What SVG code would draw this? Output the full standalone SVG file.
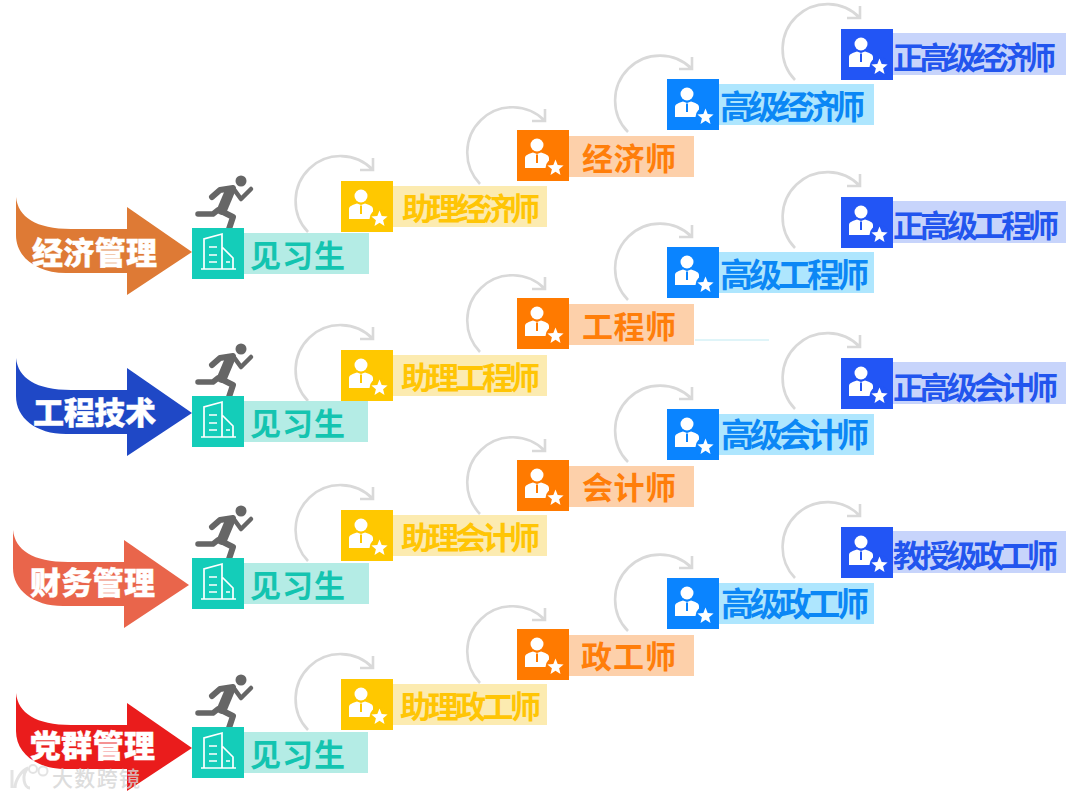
<svg xmlns="http://www.w3.org/2000/svg" width="1080" height="797" viewBox="0 0 1080 797">
<style>
text{font-family:"Noto Sans CJK SC","Noto Sans",sans-serif;font-weight:700}
.arc{fill:none;stroke:#d9d9d9;stroke-width:2.6}
.lab{fill:#fff;font-size:31px;font-weight:900;stroke:#fff;stroke-width:.4}
.g{color:#14cdb9}.g .b{fill:#b4ece5}.g text{fill:#14c4b0;font-size:31px}
.y{color:#ffc800}.y .b{fill:#fcebb0}.y text{fill:#ffc505;font-size:31px}
.o{color:#ff7a00}.o .b{fill:#fdd0aa}.o text{fill:#ff7e0a;font-size:31px}
.l{color:#0a84ff}.l .b{fill:#aee6fe}.l text{fill:#0b87f5;font-size:33px}
.d{color:#2255f5}.d .b{fill:#c7d4fb}.d text{fill:#2255ee;font-size:31px}
.s{fill:currentColor}
</style>
<defs>
<path id="arrow" d="M0 0C2 20 20 32 55 32H111V10L176 55L111 98V76H50C20 76 0 60 0 38Z"/>
<g id="person">
<circle cx="20" cy="15" r="6.500" fill="#fff"/>
<path d="M8 38V28C8 25 12 24 16 22.500L20 24L24 22.500C28 24 32 25 32 28V38Z" fill="#fff"/>
<path d="M20 24.500V33" stroke="currentColor" stroke-width="2"/>
<circle cx="38.500" cy="38" r="10" fill="currentColor"/>
<path d="M38.500 29.500L40.700 34.900L46.600 35.400L42.100 39.200L43.500 44.900L38.500 41.800L33.500 44.900L34.900 39.200L30.400 35.400L36.300 34.900Z" fill="#fff"/>
</g>
<g id="building" fill="none" stroke="#fff" stroke-width="1.700">
<path d="M9 41H44M12 41V11L30 6V41M30 19L41 30V41M17 19H25M17 27H25M17 34H25M34 34H38"/>
</g>
<g id="runner" fill="none" stroke="#666" stroke-linecap="round" stroke-linejoin="round">
<circle cx="46" cy="5" r="5.500" fill="#666" stroke="none"/>
<path d="M17 21L25 14L38 12" stroke-width="6"/>
<path d="M38 12L46 23L56 13" stroke-width="4.500"/>
<path d="M23 34L18 38H3" stroke-width="5.500"/>
<path d="M28 36L38 41L34 53" stroke-width="6"/>
<path d="M35 15L27 34" stroke-width="10"/>
</g>
<path id="arcY" d="M-33 51A40 40 0 1 1 32-11M19-11H32V-23" class="arc"/>
<path id="arcO" d="M-37 54A40 40 0 1 1 28-9M15-9H28V-21" class="arc"/>
<path id="arcL" d="M-39 53A40 40 0 1 1 25-10M12-10H25V-22" class="arc"/>
<path id="arcD" d="M-46 51A40 40 0 1 1 19-11M6-11H19V-23" class="arc"/>
</defs>
<g id="connectors">
<use href="#arcY" x="341" y="181"/><use href="#arcO" x="517" y="130"/><use href="#arcL" x="667" y="79"/><use href="#arcD" x="841" y="29"/>
<use href="#arcY" x="341" y="350"/><use href="#arcO" x="517" y="298"/><use href="#arcL" x="667" y="247"/><use href="#arcD" x="841" y="197"/>
<use href="#arcY" x="341" y="510"/><use href="#arcO" x="517" y="460"/><use href="#arcL" x="667" y="409"/><use href="#arcD" x="841" y="358"/>
<use href="#arcY" x="341" y="679"/><use href="#arcO" x="517" y="629"/><use href="#arcL" x="667" y="578"/><use href="#arcD" x="841" y="527"/>
<path d="M695 340H769" stroke="#bfeaf2" stroke-width="1" fill="none"/>
</g>
<g id="cat1"><use href="#arrow" x="16" y="197" fill="#de7a35"/><text class="lab" x="32" y="264" textLength="125">经济管理</text></g>
<g id="cat2"><use href="#arrow" x="16" y="358" fill="#1f48c6"/><text class="lab" x="33" y="424" textLength="123">工程技术</text></g>
<g id="cat3"><use href="#arrow" x="13" y="530" fill="#e9654b"/><text class="lab" x="30" y="594" textLength="125">财务管理</text></g>
<g id="cat4"><use href="#arrow" x="16" y="693" fill="#ea1c1c"/><text class="lab" x="30" y="757" textLength="125">党群管理</text></g>

<g id="n11" class="g"><use href="#runner" x="195" y="176"/><rect class="b" x="244" y="233" width="125" height="41"/><rect class="s" x="192" y="228" width="52" height="51"/><use href="#building" x="192" y="228"/><text x="250" y="267" textLength="95">见习生</text></g>
<g id="n12" class="y"><rect class="b" x="393" y="186" width="154" height="41"/><rect class="s" x="341" y="181" width="52" height="51"/><use href="#person" x="341" y="181"/><text x="402" y="220" textLength="138">助理经济师</text></g>
<g id="n13" class="o"><rect class="b" x="569" y="136" width="125" height="41"/><rect class="s" x="517" y="130" width="52" height="51"/><use href="#person" x="517" y="130"/><text x="582" y="170" textLength="94">经济师</text></g>
<g id="n14" class="l"><rect class="b" x="719" y="84" width="155" height="41"/><rect class="s" x="667" y="79" width="52" height="51"/><use href="#person" x="667" y="79"/><text x="720" y="119" textLength="145">高级经济师</text></g>
<g id="n15" class="d"><rect class="b" x="893" y="33" width="173" height="42"/><rect class="s" x="841" y="29" width="52" height="51"/><use href="#person" x="841" y="29"/><text x="893" y="69" textLength="163">正高级经济师</text></g>

<g id="n21" class="g"><use href="#runner" x="195" y="344"/><rect class="b" x="244" y="401" width="124" height="41"/><rect class="s" x="192" y="396" width="52" height="51"/><use href="#building" x="192" y="396"/><text x="250" y="435" textLength="95">见习生</text></g>
<g id="n22" class="y"><rect class="b" x="393" y="355" width="154" height="41"/><rect class="s" x="341" y="350" width="52" height="51"/><use href="#person" x="341" y="350"/><text x="401" y="389" textLength="139">助理工程师</text></g>
<g id="n23" class="o"><rect class="b" x="569" y="304" width="125" height="41"/><rect class="s" x="517" y="298" width="52" height="51"/><use href="#person" x="517" y="298"/><text x="582" y="338" textLength="94">工程师</text></g>
<g id="n24" class="l"><rect class="b" x="719" y="252" width="155" height="41"/><rect class="s" x="667" y="247" width="52" height="51"/><use href="#person" x="667" y="247"/><text x="720" y="287" textLength="149">高级工程师</text></g>
<g id="n25" class="d"><rect class="b" x="893" y="201" width="173" height="42"/><rect class="s" x="841" y="197" width="52" height="51"/><use href="#person" x="841" y="197"/><text x="893" y="237" textLength="166">正高级工程师</text></g>

<g id="n31" class="g"><use href="#runner" x="195" y="506"/><rect class="b" x="244" y="563" width="125" height="41"/><rect class="s" x="192" y="558" width="52" height="51"/><use href="#building" x="192" y="558"/><text x="250" y="597" textLength="95">见习生</text></g>
<g id="n32" class="y"><rect class="b" x="393" y="515" width="154" height="41"/><rect class="s" x="341" y="510" width="52" height="51"/><use href="#person" x="341" y="510"/><text x="401" y="549" textLength="139">助理会计师</text></g>
<g id="n33" class="o"><rect class="b" x="569" y="466" width="125" height="41"/><rect class="s" x="517" y="460" width="52" height="51"/><use href="#person" x="517" y="460"/><text x="582" y="499" textLength="94">会计师</text></g>
<g id="n34" class="l"><rect class="b" x="719" y="414" width="155" height="41"/><rect class="s" x="667" y="409" width="52" height="51"/><use href="#person" x="667" y="409"/><text x="721" y="447" textLength="148">高级会计师</text></g>
<g id="n35" class="d"><rect class="b" x="893" y="362" width="173" height="42"/><rect class="s" x="841" y="358" width="52" height="51"/><use href="#person" x="841" y="358"/><text x="893" y="399" textLength="165">正高级会计师</text></g>

<g id="n41" class="g"><use href="#runner" x="195" y="675"/><rect class="b" x="244" y="732" width="124" height="41"/><rect class="s" x="192" y="727" width="52" height="51"/><use href="#building" x="192" y="727"/><text x="250" y="766" textLength="95">见习生</text></g>
<g id="n42" class="y"><rect class="b" x="393" y="684" width="154" height="41"/><rect class="s" x="341" y="679" width="52" height="51"/><use href="#person" x="341" y="679"/><text x="400" y="718" textLength="141">助理政工师</text></g>
<g id="n43" class="o"><rect class="b" x="569" y="635" width="125" height="41"/><rect class="s" x="517" y="629" width="52" height="51"/><use href="#person" x="517" y="629"/><text x="581" y="668" textLength="95">政工师</text></g>
<g id="n44" class="l"><rect class="b" x="719" y="583" width="155" height="41"/><rect class="s" x="667" y="578" width="52" height="51"/><use href="#person" x="667" y="578"/><text x="721" y="616" textLength="148">高级政工师</text></g>
<g id="n45" class="d"><rect class="b" x="893" y="531" width="173" height="42"/><rect class="s" x="841" y="527" width="52" height="51"/><use href="#person" x="841" y="527"/><text x="893" y="567" textLength="165">教授级政工师</text></g>

<g id="watermark" opacity=".8">
<path d="M12 770V788M15 788C15 780 22 770 28 768C21 775 24 788 30 788" fill="none" stroke="#ddd" stroke-width="3"/>
<circle cx="33" cy="769" r="4" fill="none" stroke="#ddd" stroke-width="2"/><circle cx="43" cy="771" r="4.500" fill="none" stroke="#ddd" stroke-width="2"/>
<text x="52" y="786" font-size="21" fill="#d5d5d5" textLength="88" style="font-weight:500">大数跨镜</text>
</g>
</svg>
